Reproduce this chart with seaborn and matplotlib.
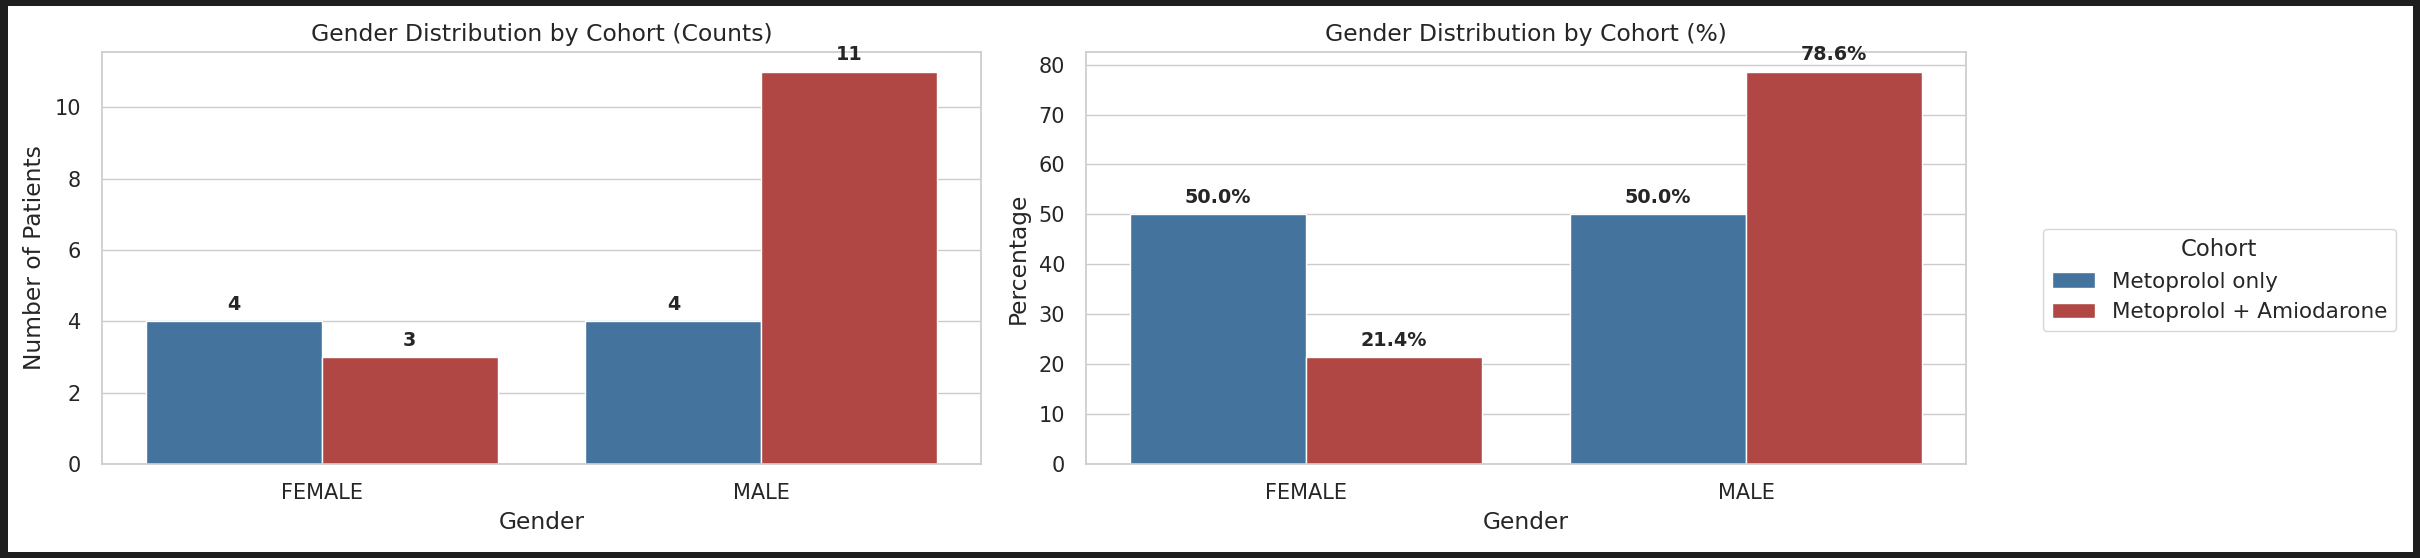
import matplotlib
matplotlib.use("Agg")
import matplotlib.pyplot as plt
from matplotlib.patches import Rectangle
from matplotlib.ticker import MultipleLocator
import seaborn as sns
import pandas as pd

# ---- data ----
genders = ["FEMALE", "MALE"]
cohorts = ["Metoprolol only", "Metoprolol + Amiodarone"]
counts_only = [4, 4]
counts_amio = [3, 11]
pct_only = [50.0, 50.0]
pct_amio = [21.4, 78.6]
colors = ["#44739E", "#B04744"]

df = pd.DataFrame({
    "Gender": genders * 2,
    "Cohort": [cohorts[0]] * 2 + [cohorts[1]] * 2,
    "Count": counts_only + counts_amio,
    "Percentage": pct_only + pct_amio,
})

sns.set_theme(style="whitegrid")
plt.rcParams["font.family"] = ["DejaVu Sans"]
plt.rcParams["xtick.major.pad"] = 7.5
plt.rcParams["ytick.major.pad"] = 9

W, H = 2420, 558
fig = plt.figure(figsize=(W / 100, H / 100), dpi=100, facecolor="#1e1e1e")
fig.patches.append(Rectangle((8 / W, 6 / H), (2413 - 8) / W, (552 - 6) / H,
                             transform=fig.transFigure, facecolor="white",
                             edgecolor="none", zorder=-1))

ax1 = fig.add_axes([102 / W, 1 - 464 / H, 879 / W, 412 / H])
ax2 = fig.add_axes([1086 / W, 1 - 464 / H, 880 / W, 412 / H])

TICK = 15
LABEL = 16.8
TITLE = 16.9
BAR = 13.8

def draw(ax, ycol, fmt, title, ylabel, step):
    sns.barplot(data=df, x="Gender", y=ycol, hue="Cohort", hue_order=cohorts,
                order=genders, palette=colors, saturation=1, ax=ax,
                edgecolor="white", linewidth=1)
    for cont, cohort in zip(ax.containers, cohorts):
        vals = df[df["Cohort"] == cohort].set_index("Gender").loc[genders, ycol]
        ax.bar_label(cont, labels=[fmt(v) for v in vals], padding=5.2,
                     fontsize=BAR, fontweight="bold", color=".15")
    ax.set_ylim(0, df[ycol].max() * 1.05)
    ax.yaxis.set_major_locator(MultipleLocator(step))
    ax.set_title(title, fontsize=TITLE, pad=8, color=".15")
    ax.set_xlabel("Gender", fontsize=LABEL, labelpad=6)
    ax.set_ylabel(ylabel, fontsize=LABEL, labelpad=6)
    ax.tick_params(labelsize=TICK)

draw(ax1, "Count", lambda v: f"{int(v)}", "Gender Distribution by Cohort (Counts)",
     "Number of Patients", 2)
draw(ax2, "Percentage", lambda v: f"{v:.1f}%", "Gender Distribution by Cohort (%)",
     "Percentage", 10)

ax1.legend_.remove()
handles, labels = ax2.get_legend_handles_labels()
ax2.legend_.remove()
fig.legend(handles, labels, title="Cohort", loc="center left",
           bbox_to_anchor=(2043 / W, 1 - 280 / H), borderaxespad=0,
           fontsize=15.5, title_fontsize=16.4, frameon=True)

fig.savefig("out.png", dpi=100)
